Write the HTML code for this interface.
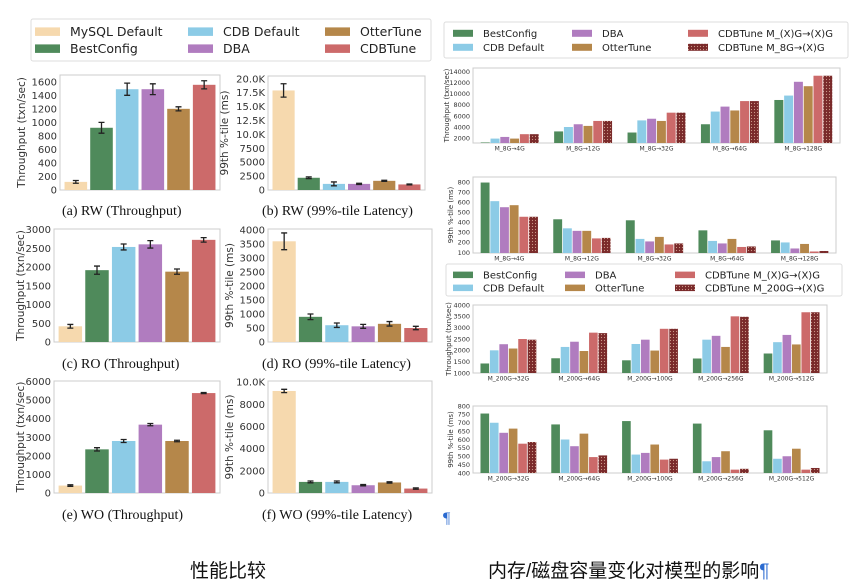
<!DOCTYPE html>
<html><head><meta charset="utf-8">
<style>
body{margin:0;background:#fff;width:856px;height:588px;overflow:hidden;position:relative;font-family:"DejaVu Sans","Liberation Sans",sans-serif}
svg{position:absolute;left:0;top:0}
.cap{position:absolute;font-family:"Liberation Serif",serif;font-size:14px;color:#111}
.big{position:absolute;font-family:"Liberation Sans","Noto Sans CJK SC",sans-serif;font-size:19px;color:#111}
</style></head><body>
<svg id="main" width="856" height="588">
<defs>
<pattern id="dots" width="3" height="3" patternUnits="userSpaceOnUse"><rect width="3" height="3" fill="#7a2a2a"/><circle cx="1.5" cy="1.5" r="0.6" fill="#c98" /></pattern>
</defs>
</svg>
<div class="cap" style="left:62px;top:204px">(a) RW (Throughput)</div>
<div class="cap" style="left:262px;top:204px">(b) RW (99%-tile Latency)</div>
<div class="cap" style="left:62px;top:357px">(c) RO (Throughput)</div>
<div class="cap" style="left:262px;top:357px">(d) RO (99%-tile Latency)</div>
<div class="cap" style="left:62px;top:508px">(e) WO (Throughput)</div>
<div class="cap" style="left:262px;top:508px">(f) WO (99%-tile Latency)</div>
<div class="cap" style="left:443px;top:510px;color:#2a6ad0;font-size:16px">¶</div>
<div class="big" style="left:190px;top:556px">性能比较</div>
<div class="big" style="left:488px;top:556px">内存/磁盘容量变化对模型的影响<span style="color:#2a6ad0">¶</span></div>
<script>
const leftColors=["#f6d9ae","#4f8a5b","#8ccbe6","#b07cbf","#b5874a","#cc6a6a"];
const rightColors=["#4f8a5b","#8ccbe6","#b07cbf","#b5874a","#cc6a6a","url(#dots)"];
const leftSeries=["MySQL Default","BestConfig","CDB Default","DBA","OtterTune","CDBTune"];
const rwThr=[120,920,1490,1490,1200,1555];const rwThrErr=[20,80,90,80,30,60];
const rwLat=[17900,2200,1100,1100,1650,1000];const rwLatErr=[1200,150,350,100,100,80];
const roThr=[420,1920,2540,2610,1880,2730];const roThrErr=[50,110,80,100,70,60];
const roLat=[3600,900,600,560,650,500];const roLatErr=[300,100,80,70,80,60];
const woThr=[400,2350,2800,3680,2800,5380];const woThrErr=[40,90,80,60,40,30];
const woLat=[9200,1000,1000,700,950,400];const woLatErr=[150,80,80,60,60,60];
const tkRwThr=[0,200,400,600,800,1000,1200,1400,1600];
const tkRwLat=[0,2500,5000,7500,10000,12500,15000,17500,20000];
const tkRwLatLbl=["0","2500","5000","7500","10.0K","12.5K","15.0K","17.5K","20.0K"];
const tkRoThr=[0,500,1000,1500,2000,2500,3000];
const tkRoLat=[0,500,1000,1500,2000,2500,3000,3500,4000];
const tkWoThr=[0,1000,2000,3000,4000,5000,6000];
const tkWoLat=[0,2000,4000,6000,8000,10000];
const tkWoLatLbl=["0","2000","4000","6000","8000","10.0K"];
const memGroups=["M_8G→4G","M_8G→12G","M_8G→32G","M_8G→64G","M_8G→128G"];
const memThr=[[1200,1900,2200,1900,2700,2700],[3200,4000,4500,4200,5100,5100],[3000,5200,5500,5100,6600,6600],[4500,6800,7700,7000,8700,8700],[8900,9700,12200,11400,13300,13300]];
const memLat=[[795,610,550,570,455,455],[430,340,315,315,240,245],[420,235,210,255,180,190],[320,215,190,235,155,160],[220,200,140,185,110,115]];
const diskGroups=["M_200G→32G","M_200G→64G","M_200G→100G","M_200G→256G","M_200G→512G"];
const diskThr=[[1420,2000,2270,2080,2500,2470],[1650,2150,2380,1970,2780,2760],[1560,2280,2470,1990,2950,2950],[1640,2470,2640,2150,3500,3480],[1860,2360,2680,2260,3680,3680]];
const diskLat=[[755,700,640,665,575,585],[690,600,560,635,495,505],[710,510,520,570,480,485],[695,470,495,530,420,425],[655,485,500,545,420,430]];
const tkMemThr=[2000,4000,6000,8000,10000,12000,14000];
const tkMemLat=[100,200,300,400,500,600,700,800];
const tkDiskThr=[1000,1500,2000,2500,3000,3500,4000];
const tkDiskLat=[400,450,500,550,600,650,700,750,800];
const legA=["BestConfig","CDB Default","DBA","OtterTune","CDBTune M_(X)G→(X)G","CDBTune M_8G→(X)G"];
const legB=["BestConfig","CDB Default","DBA","OtterTune","CDBTune M_(X)G→(X)G","CDBTune M_200G→(X)G"];
const svg=document.getElementById('main');const NS="http://www.w3.org/2000/svg";
function mk(t,a,p){const e=document.createElementNS(NS,t);for(const k in a)e.setAttribute(k,a[k]);(p||svg).appendChild(e);return e;}
function chart(name,c){
 const g=mk('g',{});
 
 
 const sy=v=>c.y1-(v-c.min)/(c.max-c.min)*(c.y1-c.y0);
 const fr=mk('rect',{x:c.x0,y:c.y0,width:c.x1-c.x0,height:c.y1-c.y0,fill:'#fff',stroke:'#ccc','stroke-width':1},g);
 
 
 c.ticks.forEach((t,i)=>{const y=sy(t);
  const l=mk('text',{x:c.x0-3,y:y+c.fs*0.35,'text-anchor':'end','font-size':c.fs,fill:'#333'},g);l.textContent=c.lbl?c.lbl[i]:String(t);
  
  });
 const yt=mk('text',{x:0,y:0,'text-anchor':'middle','font-size':c.fs+0.5,fill:'#333',transform:`translate(${c.x0-c.yOff},${(c.y0+c.y1)/2}) rotate(-90)`},g);yt.textContent=c.ylabel;
 
 
 const W=c.x1-c.x0;
 if(c.single){const n=c.vals.length,band=(W-6)/n,bw=band*0.88;
  c.vals.forEach((v,i)=>{const x=c.x0+3+i*band+(band-bw)/2;
   const r=mk('rect',{x:x,y:sy(v),width:bw,height:c.y1-sy(v),fill:c.colors[i]},g);
   
   
   const e=c.err[i],cx=x+bw/2;
   const eb=mk('path',{d:`M${cx},${sy(v+e)}V${sy(v-e)}M${cx-3},${sy(v+e)}H${cx+3}M${cx-3},${sy(v-e)}H${cx+3}`,stroke:'#222','stroke-width':1.3,fill:'none'},g);
   
   });
 }else{const ng=c.vals.length,gw=W/ng;
  c.vals.forEach((arr,gi)=>{const bw=gw*0.8/arr.length;
   arr.forEach((v,i)=>{const x=c.x0+gi*gw+gw*0.1+i*bw;
    const r=mk('rect',{x:x+0.4,y:sy(v),width:bw-0.8,height:c.y1-sy(v),fill:c.colors[i]},g);
    
    });
   const t=mk('text',{x:c.x0+gi*gw+gw/2,y:c.y1+c.fs+1,'text-anchor':'middle','font-size':c.fs-0.5,fill:'#333'},g);t.textContent=c.groups[gi];
   
   });
 }
}
function legend(name,x,y,w,h,items,colors,fs,rowH,colX,sw,tOff){
 const g=mk('g',{});
 
 
 mk('rect',{x:x,y:y,width:w,height:h,fill:'#fff',stroke:'#ddd',rx:2},g);
 items.forEach((it,i)=>{const col=Math.floor(i/2),row=i%2;const lx=colX[col],ly=y+5+row*rowH;
  mk('rect',{x:lx,y:ly+rowH*0.2,width:sw,height:rowH*0.5,fill:colors[i]},g);
  const t=mk('text',{x:lx+tOff,y:ly+rowH*0.72,'font-size':fs,fill:'#222'},g);t.textContent=it;
  
  });
}
legend('legend-left',31,19,400,42,leftSeries,leftColors,12.5,17,[35,188,325],25,35);
legend('legend-mem',444,22,404,36,legA,rightColors,10,14,[453,572,688],20,30);
legend('legend-disk',446,264,396,32,legB,rightColors,10,13,[453,565,675],20,30);
const fsL=10;
chart('chart-rw-throughput',{x0:60,x1:220,y0:75,y1:190,min:0,max:1700,ticks:tkRwThr,ylabel:'Throughput (txn/sec)',yOff:35,fs:fsL,single:1,vals:rwThr,err:rwThrErr,colors:leftColors,series:leftSeries});
chart('chart-rw-latency',{x0:268,x1:425,y0:76,y1:190,min:0,max:20500,ticks:tkRwLat,lbl:tkRwLatLbl,ylabel:'99th %-tile (ms)',yOff:40,fs:fsL,single:1,vals:rwLat,err:rwLatErr,colors:leftColors,series:leftSeries});
chart('chart-ro-throughput',{x0:54,x1:220,y0:229,y1:342,min:0,max:3020,ticks:tkRoThr,ylabel:'Throughput (txn/sec)',yOff:30,fs:fsL,single:1,vals:roThr,err:roThrErr,colors:leftColors,series:leftSeries});
chart('chart-ro-latency',{x0:268,x1:432,y0:229,y1:342,min:0,max:4040,ticks:tkRoLat,ylabel:'99th %-tile (ms)',yOff:35,fs:fsL,single:1,vals:roLat,err:roLatErr,colors:leftColors,series:leftSeries});
chart('chart-wo-throughput',{x0:54,x1:220,y0:381,y1:493,min:0,max:6030,ticks:tkWoThr,ylabel:'Throughput (txn/sec)',yOff:30,fs:fsL,single:1,vals:woThr,err:woThrErr,colors:leftColors,series:leftSeries});
chart('chart-wo-latency',{x0:268,x1:432,y0:381,y1:493,min:0,max:10100,ticks:tkWoLat,lbl:tkWoLatLbl,ylabel:'99th %-tile (ms)',yOff:35,fs:fsL,single:1,vals:woLat,err:woLatErr,colors:leftColors,series:leftSeries});
chart('chart-mem-throughput',{x0:473,x1:840,y0:68,y1:143,min:1100,max:14700,ticks:tkMemThr,ylabel:'Throughput (txn/sec)',yOff:24,fs:6.5,vals:memThr,groups:memGroups,colors:rightColors});
chart('chart-mem-latency',{x0:473,x1:836,y0:177,y1:253,min:95,max:850,ticks:tkMemLat,ylabel:'99th %-tile (ms)',yOff:20,fs:6.5,vals:memLat,groups:memGroups,colors:rightColors});
chart('chart-disk-throughput',{x0:473,x1:827,y0:305,y1:373,min:1000,max:4000,ticks:tkDiskThr,ylabel:'Throughput (txn/sec)',yOff:22,fs:6.5,vals:diskThr,groups:diskGroups,colors:rightColors});
chart('chart-disk-latency',{x0:473,x1:827,y0:406,y1:473,min:400,max:800,ticks:tkDiskLat,ylabel:'99th %-tile (ms)',yOff:20,fs:6.5,vals:diskLat,groups:diskGroups,colors:rightColors});
</script>
</body></html>
